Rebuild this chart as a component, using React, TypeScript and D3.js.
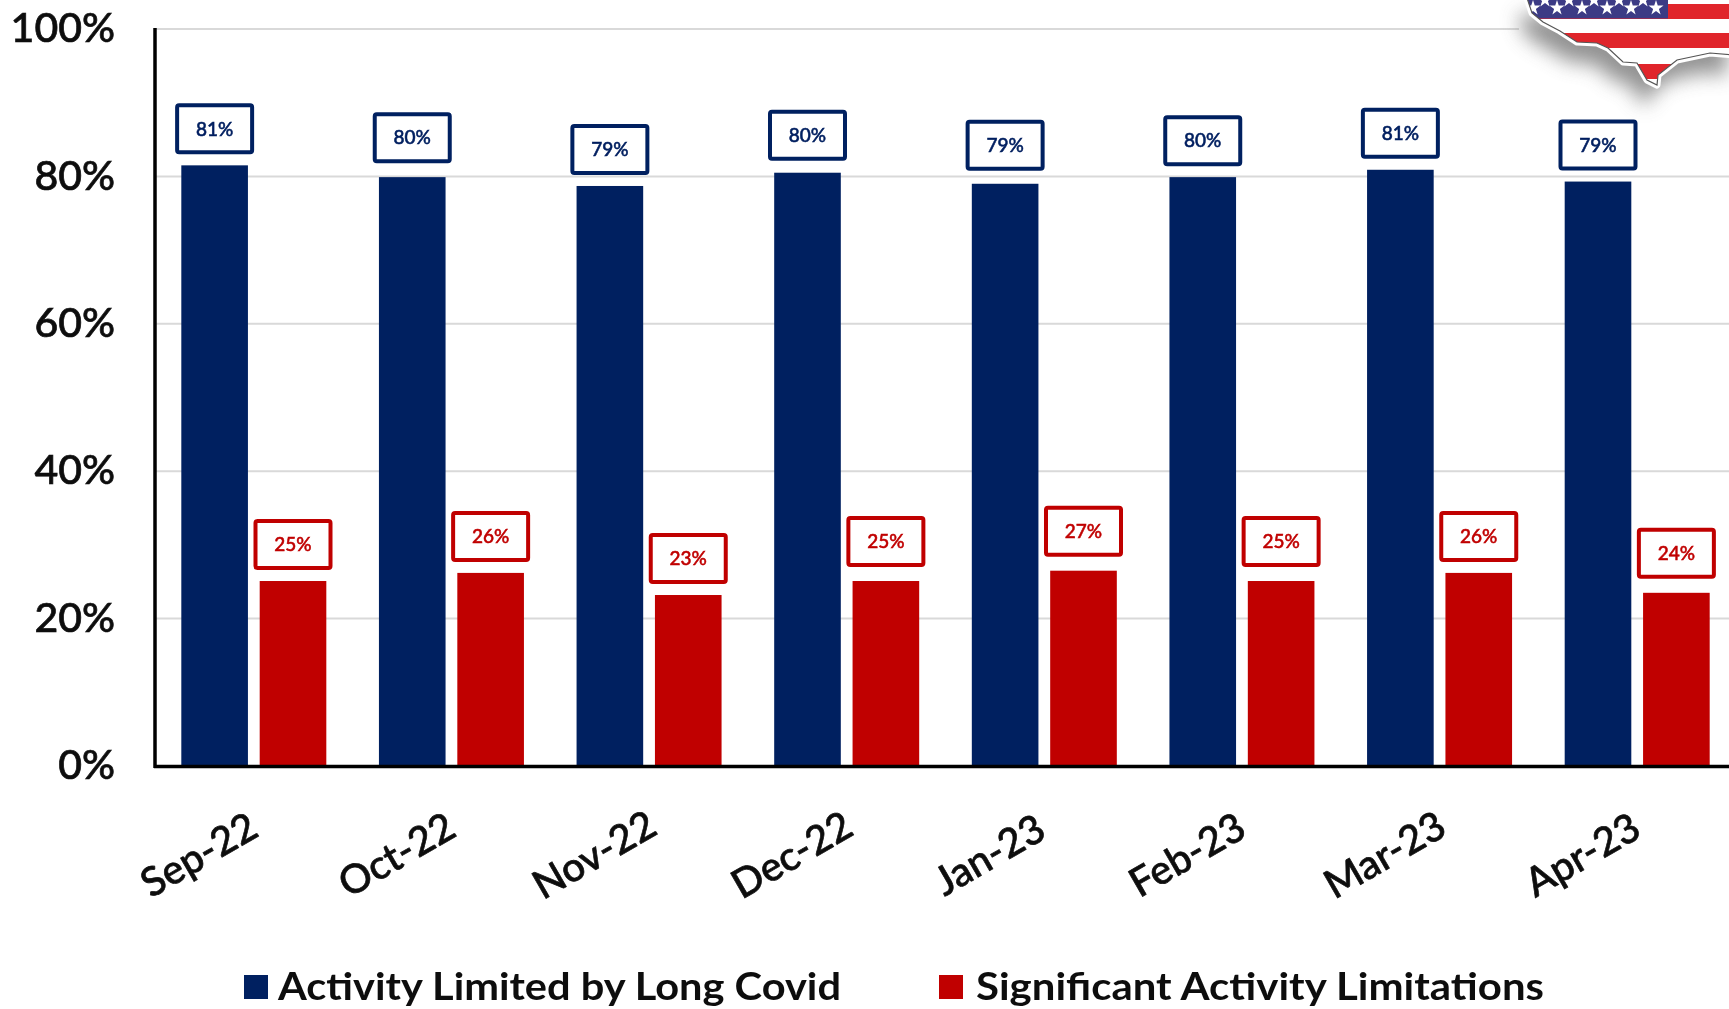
import React from "react";
import * as d3 from "d3";

const categories = ["Sep-22", "Oct-22", "Nov-22", "Dec-22", "Jan-23", "Feb-23", "Mar-23", "Apr-23"];
const activityLimited = [81.5, 79.9, 78.7, 80.5, 79.0, 79.9, 80.9, 79.3];
const significantLimits = [25.1, 26.2, 23.2, 25.1, 26.5, 25.1, 26.2, 23.5];
const activityLabels = ["81%", "80%", "79%", "80%", "79%", "80%", "81%", "79%"];
const significantLabels = ["25%", "26%", "23%", "25%", "27%", "25%", "26%", "24%"];
const activityGaps = [13, 16, 13, 14, 15, 13, 13, 13];
const significantGaps = [13, 13, 13, 16, 16, 16, 13, 16];
const yTicks = [0, 20, 40, 60, 80, 100];
const seriesNames = ["Activity Limited by Long Covid", "Significant Activity Limitations"];

const NAVY = "#002060";
const RED = "#c00000";
const FONT = "Lato, 'Open Sans', sans-serif";

const usOutline: [number, number][] = [
  [1526, -5], [1532, 13], [1543, 22], [1560, 31], [1577, 42], [1597, 43], [1608, 48], [1623, 62],
  [1637, 63], [1647, 80], [1657, 85], [1658, 75], [1677, 60], [1710, 53], [1735, 55], [1735, -5],
];
const stripeTops = [4, 33, 64];
const starRows: [number, number[]][] = [
  [0, [1545, 1569, 1594, 1619, 1643]],
  [8, [1533, 1557, 1582, 1607, 1631, 1656]],
];

export default function App() {
  const width = 1729, height = 1009;
  const x0 = d3.scaleBand().domain(categories).range([154, 1735]);
  const y = d3.scaleLinear().domain([0, 100]).range([766, 29]);
  const bw = x0.bandwidth();
  const groupW = 145;
  const x1 = d3.scaleBand().domain(["a", "b"]).range([bw / 2 - groupW / 2 + 1, bw / 2 + groupW / 2 + 1]).paddingInner(0.15).paddingOuter(0);
  const boxW = 75, boxH = 47;
  const line = d3.line();
  const outline = line(usOutline) + "Z";

  const series = [
    { key: "a", values: activityLimited, labels: activityLabels, gaps: activityGaps, color: NAVY },
    { key: "b", values: significantLimits, labels: significantLabels, gaps: significantGaps, color: RED },
  ];

  return (
    <svg width={width} height={height} viewBox={`0 0 ${width} ${height}`}
      style={{ position: "absolute", left: 0, top: 0, display: "block", background: "#fff" }}>
      <defs>
        <filter id="soft" x="-5%" y="-5%" width="110%" height="110%"><feGaussianBlur stdDeviation="0.6" /></filter>
        <filter id="shadow" x="-20%" y="-30%" width="140%" height="220%"><feGaussianBlur stdDeviation="10" /></filter>
        <clipPath id="us"><path d={outline} /></clipPath>
      </defs>

      {yTicks.filter(t => t > 0).map(t => (
        <line key={t} x1={156} x2={width} y1={y(t)} y2={y(t)} stroke="#d9d9d9" strokeWidth={2} />
      ))}

      {series.map(s => (
        <g key={s.key}>
          {categories.map((c, i) => {
            const bx = x0(c)! + x1(s.key)!;
            const top = y(s.values[i]);
            const w = x1.bandwidth();
            const cx = bx + w / 2;
            const boxBottom = top - s.gaps[i];
            return (
              <g key={c}>
                <rect x={bx} y={top} width={w} height={y(0) - top} fill={s.color} />
                <rect x={cx - boxW / 2} y={boxBottom - boxH} width={boxW} height={boxH} rx={2}
                  fill="#fff" stroke={s.color} strokeWidth={4} />
                <text x={cx} y={boxBottom - boxH / 2 + 2} textAnchor="middle" dominantBaseline="middle"
                  fontFamily={FONT} fontSize={19} fontWeight={500} fill={s.color} stroke={s.color} strokeWidth={0.5} filter="url(#soft)">{s.labels[i]}</text>
              </g>
            );
          })}
        </g>
      ))}

      <line x1={155} x2={155} y1={28} y2={768} stroke="#000" strokeWidth={3.5} />
      <line x1={154} x2={width} y1={766.5} y2={766.5} stroke="#000" strokeWidth={3.5} />

      <g filter="url(#soft)" fill="#111" fontFamily={FONT}>
        {yTicks.map(t => (
          <text key={t} x={115} y={y(t)} dy="0.32em" textAnchor="end" fontSize={41} fontWeight={500} stroke="#111" strokeWidth={0.7}>{t}%</text>
        ))}
        {categories.map(c => {
          const cx = x0(c)! + bw / 2;
          return (
            <text key={c} transform={`translate(${cx - 52},${858}) rotate(-30)`} textAnchor="middle"
              dominantBaseline="middle" fontSize={40} fontWeight={500} stroke="#111" strokeWidth={0.7}>{c}</text>
          );
        })}
        <text x={278} y={990} dominantBaseline="middle" fontSize={38} fontWeight={700} textLength={563} lengthAdjust="spacingAndGlyphs">{seriesNames[0]}</text>
        <text x={976} y={990} dominantBaseline="middle" fontSize={38} fontWeight={700} textLength={568} lengthAdjust="spacingAndGlyphs">{seriesNames[1]}</text>
      </g>
      <rect x={244} y={975} width={24} height={24} fill={NAVY} />
      <rect x={939} y={975} width={24} height={24} fill={RED} />

      <rect x={1519} y={0} width={210} height={38} fill="#fff" />
      <path d={outline} transform="translate(-8,20)" fill="#777" opacity={0.8} filter="url(#shadow)" />
      <path d={outline} fill="#fff" stroke="#fff" strokeWidth={7} strokeLinejoin="round" />
      <g clipPath="url(#us)">
        <rect x={1520} y={-5} width={215} height={95} fill="#fff" />
        {stripeTops.map(t => (
          <rect key={t} x={1520} y={t} width={215} height={15} fill="#e0252b" />
        ))}
        <rect x={1520} y={-5} width={148} height={23.5} fill="#3c3b85" />
        {starRows.map(([sy, xs]) => xs.map(sx => (
          <path key={`${sy}-${sx}`} transform={`translate(${sx},${sy})`} fill="#fff"
            d={d3.symbol(d3.symbolStar, 70)()!} />
        )))}
      </g>
      <path d={outline} fill="none" stroke="#555" strokeWidth={1.2} />
    </svg>
  );
}
